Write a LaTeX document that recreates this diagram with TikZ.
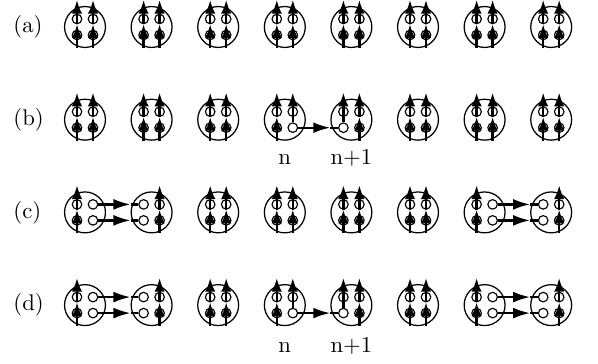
\documentclass[tikz,border=0pt]{standalone}
\usetikzlibrary{arrows.meta}

\tikzset{
  site/.style={draw, circle, line width=0.55pt, inner sep=0pt, minimum size=18pt},
  orb/.style={draw, circle, line width=0.5pt, inner sep=0pt, minimum size=4.2pt},
  spin/.style={line width=1pt, -{Latex[length=6pt,width=4.6pt]}},
  hop/.style={line width=1pt},
  tag/.style={inner sep=0pt, anchor=west},
}

% #1 column, #2 row, #3/#4 left/right column: 0 full, 1 cut, 2 empty
\NewDocumentCommand{\sitecell}{mmO{0}O{0}}{%
\begin{scope}[shift={(85+66.6*#1,27+92.7*#2)}]%chktex 36
\node[site] (c#1r#2) at (0,0) {};
\foreach \sx/\sn/\st in {-8/l/#3,8/r/#4} {%chktex 11
  \node[orb] (c#1r#2\sn u) at (\sx,-8) {};
  \node[orb] (c#1r#2\sn d) at (\sx,8) {};
  \coordinate (c#1r#2\sn t) at (\sx,-27);
  \ifcase\st
    \draw[spin] (c#1r#2.south -| c#1r#2\sn d) -- (c#1r#2\sn u.south);
    \draw[spin] (c#1r#2\sn u.south) -- (c#1r#2\sn t);
  \or
    \draw[spin] (c#1r#2\sn d.north) -- (c#1r#2\sn t);
  \fi
}
\end{scope}%
}

% #1 from column, #2 to column, #3 row, #4 orbital (u/d)
\NewDocumentCommand{\hopline}{mmmm}{%
\draw[hop, -{Latex[length=7.5pt,width=4.8pt]}] (c#1r#3r#4) -- (c#1r#3r#4 -| c#2r#3.west);
\draw[hop] (c#1r#3r#4 -| c#2r#3.west) -- (c#2r#3l#4);%
}

\begin{document}
\begin{tikzpicture}[x=0.44pt, y=-0.44pt]
        \useasboundingbox (0,0) rectangle (598,364);

        % (a) all sites filled.
        \node[tag] (la) at (13,27) {(a)};
        \sitecell{0}{0}
        \sitecell{1}{0}
        \sitecell{2}{0}
        \sitecell{3}{0}
        \sitecell{4}{0}
        \sitecell{5}{0}
        \sitecell{6}{0}
        \sitecell{7}{0}

        % (b) one hop between n and n+1.
        \node[tag] (lb) at (13,119.7) {(b)};
        \sitecell{0}{1}
        \sitecell{1}{1}
        \sitecell{2}{1}
        \sitecell{3}{1}[0][1]
        \sitecell{4}{1}[1][0]
        \sitecell{5}{1}
        \sitecell{6}{1}
        \sitecell{7}{1}
        \hopline{3}{4}{1}{d}
        \node[anchor=base] (bn) at (c3r1 |- 0,165) {n};
        \node[anchor=base] (bm) at (c4r1 |- 0,165) {n+1};

        % (c) two pairs.
        \node[tag] (lc) at (13,212.4) {(c)};
        \sitecell{0}{2}[0][2]
        \sitecell{1}{2}[2][0]
        \sitecell{2}{2}
        \sitecell{3}{2}
        \sitecell{4}{2}
        \sitecell{5}{2}
        \sitecell{6}{2}[0][2]
        \sitecell{7}{2}[2][0]
        \hopline{0}{1}{2}{u}
        \hopline{0}{1}{2}{d}
        \hopline{6}{7}{2}{u}
        \hopline{6}{7}{2}{d}

        % (d) two pairs and one hop.
        \node[tag] (ld) at (13,305.1) {(d)};
        \sitecell{0}{3}[0][2]
        \sitecell{1}{3}[2][0]
        \sitecell{2}{3}
        \sitecell{3}{3}[0][1]
        \sitecell{4}{3}[1][0]
        \sitecell{5}{3}
        \sitecell{6}{3}[0][2]
        \sitecell{7}{3}[2][0]
        \hopline{0}{1}{3}{u}
        \hopline{0}{1}{3}{d}
        \hopline{3}{4}{3}{d}
        \hopline{6}{7}{3}{u}
        \hopline{6}{7}{3}{d}
        \node[anchor=base] (dn) at (c3r3 |- 0,353) {n};
        \node[anchor=base] (dm) at (c4r3 |- 0,353) {n+1};
    \end{tikzpicture}
\end{document}
